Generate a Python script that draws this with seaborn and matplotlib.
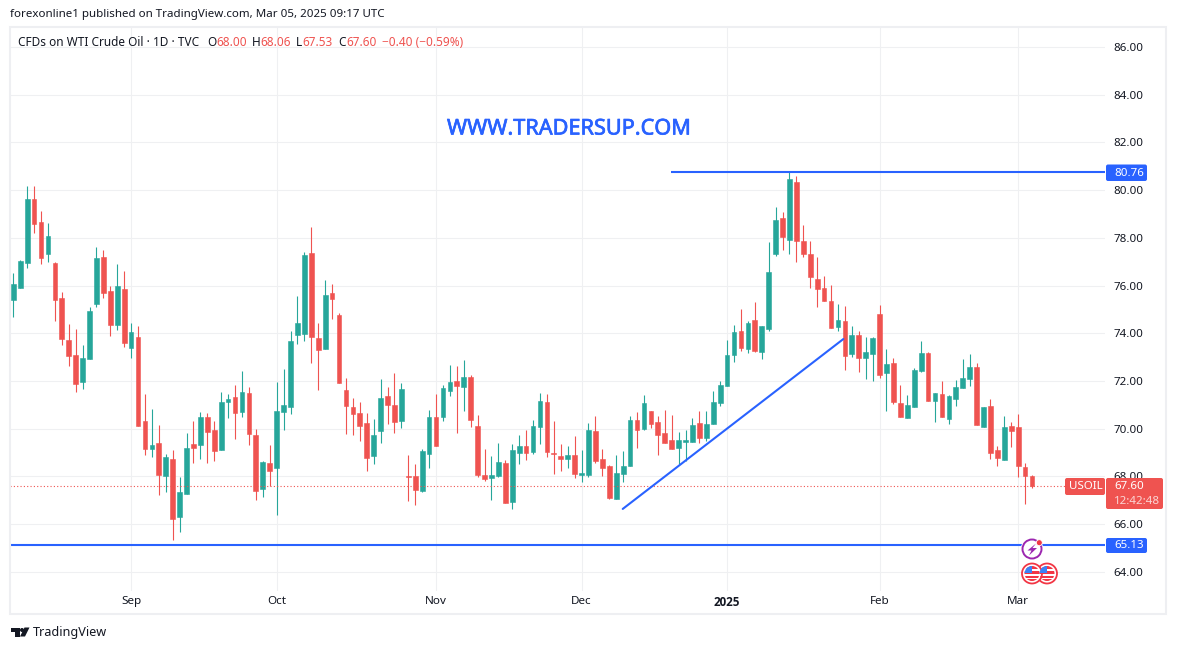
import numpy as np
import pandas as pd
import matplotlib
matplotlib.use('Agg')
import matplotlib.pyplot as plt
import matplotlib.patheffects as pe
from matplotlib.patches import Circle, Polygon, Rectangle, FancyBboxPatch
import seaborn as sns

open_prices = [75.40,75.91,76.95,79.62,78.66,77.33,76.94,75.47,73.71,73.08,
               71.97,72.93,75.24,77.19,75.77,74.36,75.85,73.39,73.84,70.32,
               69.16,69.40,68.03,68.73,66.31,67.27,69.36,69.33,70.49,69.94,
               69.12,71.13,71.32,70.71,71.49,69.73,67.48,68.56,68.36,70.71,
               70.92,73.94,73.98,77.36,73.80,73.35,75.68,74.76,71.62,70.91,
               70.65,70.24,68.87,69.91,71.37,70.99,70.33,68.01,68.01,67.40,
               68.95,70.49,70.50,71.59,72.00,71.76,72.16,70.11,68.06,67.94,
               68.03,68.56,66.94,68.99,69.27,69.03,70.08,71.12,68.98,68.85,
               68.73,68.89,68.07,68.07,69.90,68.73,68.43,67.06,68.11,68.45,
               70.36,70.00,70.74,70.28,69.82,69.52,69.20,69.45,69.45,70.24,
               69.62,70.21,71.09,71.80,73.10,74.09,73.35,74.55,73.22,74.19,
               77.33,78.83,77.92,80.34,77.86,77.32,76.27,75.89,75.35,74.26,
               74.51,73.14,73.92,72.97,73.14,74.80,72.34,72.75,71.07,70.46,
               70.92,72.41,73.17,71.17,71.45,70.42,71.26,71.72,72.09,72.58,
               70.08,70.95,69.10,68.70,70.11,70.07,68.39,68.00]
close_prices = [76.06,77.02,79.62,78.59,77.16,78.07,75.40,73.77,73.06,71.88,
                72.96,74.93,77.15,75.70,74.36,75.98,73.60,74.05,70.12,69.16,
                69.31,68.07,68.81,66.23,67.34,69.19,69.20,70.49,69.87,69.08,
                71.12,71.24,70.67,71.53,69.79,67.40,68.60,68.24,70.74,70.99,
                73.67,74.43,77.28,73.85,73.31,75.60,75.45,71.93,70.96,70.63,
                70.12,68.78,69.73,71.28,71.00,70.29,71.66,67.99,67.44,69.06,
                70.49,69.29,71.70,71.95,71.80,72.16,70.37,68.07,67.90,68.06,
                68.60,66.90,69.10,69.27,68.99,70.11,71.16,69.03,68.94,68.73,
                68.89,68.11,68.14,69.94,68.66,68.36,67.11,68.14,68.43,70.36,
                69.96,71.07,70.21,69.75,69.41,69.16,69.52,69.52,70.15,69.62,
                70.19,71.12,71.83,73.08,74.05,73.39,74.43,73.27,74.30,76.56,
                78.74,78.04,80.46,77.88,77.33,76.37,75.87,75.36,74.23,74.55,
                73.06,73.92,72.97,73.21,73.80,72.26,72.71,71.13,70.50,70.99,
                72.46,73.17,71.17,71.49,70.50,71.37,71.74,72.12,72.58,70.17,
                70.91,68.99,68.78,70.07,69.91,68.45,68.03,67.60]
high_prices = [76.52,77.07,80.17,80.17,79.12,78.62,76.98,75.73,74.38,74.17,
               73.50,75.10,77.61,77.49,75.98,76.90,76.61,74.43,74.30,71.45,
               70.82,70.15,68.94,69.10,67.99,69.82,70.32,70.70,70.65,70.32,
               71.53,71.45,71.83,72.41,71.74,69.98,68.64,69.31,71.95,72.50,
               74.09,75.56,77.40,78.45,74.43,76.23,76.06,74.85,72.12,71.28,
               71.12,70.65,70.40,72.08,71.74,72.33,71.91,68.89,68.52,69.15,
               70.78,71.45,71.83,72.67,72.62,72.88,72.25,70.57,69.15,68.85,
               69.40,68.68,69.36,69.73,69.94,70.36,71.49,71.45,70.32,69.36,
               69.27,69.69,69.10,70.24,70.53,69.15,68.47,68.89,69.06,70.53,
               70.70,71.41,70.74,70.53,70.78,70.57,69.86,69.94,70.44,70.74,
               70.74,71.58,72.00,73.71,74.34,75.01,74.51,75.31,74.30,77.82,
               79.29,79.08,80.77,80.59,78.53,77.86,77.19,76.41,76.02,75.22,
               75.14,74.30,74.09,73.84,73.84,75.18,73.34,72.96,71.83,71.41,
               72.54,73.67,73.21,71.49,72.00,71.41,72.04,72.92,73.13,72.75,
               70.91,71.24,69.27,70.53,70.28,70.61,68.56,68.06]
low_prices = [74.69,75.91,76.75,78.21,76.91,77.00,74.52,73.52,72.64,71.55,
              71.67,72.93,75.11,75.49,73.90,74.15,73.43,72.97,70.12,68.91,
              68.82,67.23,67.36,65.35,65.68,67.27,68.57,68.74,68.57,68.66,
              69.12,70.46,69.58,70.50,69.33,67.02,67.15,67.61,66.39,69.96,
              70.63,73.56,73.69,72.76,71.63,73.35,74.61,71.93,69.79,69.75,
              69.49,68.24,68.53,69.41,70.21,69.83,70.04,66.98,66.81,67.36,
              68.36,69.29,70.33,71.38,69.83,70.75,70.08,67.99,67.82,67.02,
              67.99,66.90,66.64,68.53,68.70,68.95,69.37,68.82,68.11,68.24,
              68.36,67.94,67.78,67.99,68.57,68.03,67.06,67.06,67.78,68.45,
              69.20,69.96,70.04,68.91,69.41,69.16,68.53,68.66,69.45,69.41,
              69.49,70.21,70.96,71.80,72.81,73.27,73.18,73.22,72.93,74.10,
              77.25,77.50,77.33,77.00,77.21,75.91,75.11,75.36,74.23,74.09,
              72.47,73.02,72.39,72.09,72.01,72.14,70.75,71.05,70.50,70.46,
              70.92,72.37,71.17,70.29,70.50,70.21,70.96,71.72,71.80,70.17,
              70.08,68.74,68.45,68.70,69.24,67.99,66.85,67.53]

price_ticks = [64, 66, 68, 70, 72, 74, 76, 78, 80, 82, 84, 86]
month_labels = ['Sep', 'Oct', 'Nov', 'Dec', '2025', 'Feb', 'Mar']
month_candles = [17, 38, 61, 82, 103, 125, 145]
resistance = 80.76
support = 65.13
last_price = 67.60
resistance_start = 94.9
trend_x = [87.94, 119.77]
trend_y = [66.64, 73.76]

UP = '#26a69a'
DOWN = '#ef5350'
BLUE = '#2962ff'
INK = '#131722'
GRID = '#eff0f2'
FONT = ['Noto Sans', 'DejaVu Sans']

sns.set_theme(style='white')
plt.rcParams['font.family'] = FONT

df = pd.DataFrame({'candle': np.arange(len(open_prices)), 'open': open_prices, 'high': high_prices,
                   'low': low_prices, 'close': close_prices})
df['rising'] = df['close'] >= df['open']
df['body_low'] = df[['open', 'close']].min(axis=1)
df['body'] = (df['close'] - df['open']).abs()

W, H = 1177, 650
fig = plt.figure(figsize=(W / 100, H / 100), dpi=100, facecolor='white')
ax = fig.add_axes([10 / W, 1 - 591 / H, 1095 / W, 564 / H])

for rising, color in [(True, UP), (False, DOWN)]:
    part = df[df['rising'] == rising]
    ax.vlines(part['candle'], part['low'], part['high'], color=color, lw=0.8, zorder=2)
    sns.barplot(data=part, x='candle', y='body', bottom=part['body_low'].values, native_scale=True,
                color=color, saturation=1, width=0.68, errorbar=None, edgecolor=color, linewidth=0.4,
                zorder=3, ax=ax)

ax.set_xlim(-0.476, 157.53)
ax.set_ylim(63.20, 86.84)
ax.set_xticks(month_candles)
ax.set_xticklabels(month_labels, fontsize=8.4, color=INK)
ax.get_xticklabels()[4].set_fontfamily('Open Sans')
ax.get_xticklabels()[4].set_fontweight('bold')
ax.set_yticks(price_ticks)
ax.set_yticklabels([f'{p:.2f}' for p in price_ticks], fontsize=8.3, color=INK)
ax.yaxis.tick_right()
ax.tick_params(axis='both', length=0)
ax.tick_params(axis='y', pad=6.2)
ax.tick_params(axis='x', pad=3.5)
ax.set_xlabel('')
ax.set_ylabel('')
ax.grid(True, color=GRID, lw=0.8, zorder=0)
ax.set_axisbelow(True)
for s in ax.spines.values():
    s.set_visible(False)

# drawings on the chart
ax.hlines(last_price, -0.476, 157.53, color=DOWN, lw=0.8, linestyles=(0, (1, 2)), zorder=4)
ax.hlines(resistance, resistance_start, 157.53, color=BLUE, lw=1.5, zorder=5)
ax.hlines(support, -0.476, 157.53, color=BLUE, lw=1.5, zorder=5)
sns.lineplot(x=trend_x, y=trend_y, color=BLUE, lw=1.5, ax=ax, zorder=5)
ax.set_xlim(-0.476, 157.53)
ax.set_ylim(63.20, 86.84)

# overlay in pixels for the labels and frame
ov = fig.add_axes([0, 0, 1, 1], facecolor='none')
ov.set_xlim(0, W)
ov.set_ylim(H, 0)
ov.axis('off')
ov.add_patch(Rectangle((10, 27), 1156, 587, fill=False, ec='#eeeff2', lw=1.5))


def txt(x, y, s, color=INK, size=8.3, **kw):
    kw.setdefault('va', 'center')
    return ov.text(x, y, s, color=color, fontsize=size, **kw)


txt(10, 15, 'forexonline1 published on TradingView.com, Mar 05, 2025 09:17 UTC')
txt(18, 42, 'CFDs on WTI Crude Oil · 1D · TVC', size=8.5)
for x, s, color in [(207, 'O', INK), (216, '68.00', DOWN), (252, 'H', INK), (260, '68.06', DOWN),
                    (296, 'L', INK), (302, '67.53', DOWN), (338, 'C', INK), (346, '67.60', DOWN),
                    (382, '−0.40 (−0.59%)', DOWN)]:
    txt(x, 42, s, color=color, size=8.5)
mark = txt(569, 129, 'WWW.TRADERSUP.COM', color=BLUE, size=15.6, ha='center')
mark.set_path_effects([pe.withStroke(linewidth=0.5, foreground=BLUE)])


def tag(x0, y0, x1, y1, color):
    ov.add_patch(FancyBboxPatch((x0 + 2, y0 + 2), x1 - x0 - 4, y1 - y0 - 4, boxstyle='round,pad=2',
                                fc=color, ec='none', zorder=6))


tag(1106, 164.5, 1147, 181, BLUE)
txt(1114, 173, '80.76', color='white', zorder=7)
tag(1106, 538, 1147, 553, BLUE)
txt(1114, 545.5, '65.13', color='white', zorder=7)
tag(1065, 478, 1105, 495, DOWN)
txt(1069, 486.5, 'USOIL', color='white', zorder=7)
tag(1106, 478, 1163, 509, DOWN)
txt(1114, 486.5, '67.60', color='white', zorder=7)
txt(1114, 501, '12:42:48', color='#fbd5d4', zorder=7)

# event markers
for cx in [1047, 1032]:
    ring = Circle((cx, 573.5), 10, fc='white', ec='#f23645', lw=1.3, zorder=8)
    ov.add_patch(ring)
    inner = Circle((cx, 573.5), 7.5, transform=ov.transData)
    for y0, h in [(566, 2.5), (571, 2.5), (575.5, 2.5), (579, 3)]:
        stripe = Rectangle((cx - 8, y0), 16, h, fc='#f23645', ec='none', zorder=9)
        ov.add_patch(stripe)
        stripe.set_clip_path(inner)
    canton = Rectangle((cx - 8, 565), 8, 8, fc='#3b82f6', ec='none', zorder=10)
    ov.add_patch(canton)
    canton.set_clip_path(inner)
ov.add_patch(Circle((1032, 549), 11.2, fc='white', ec='none', zorder=7))
ov.add_patch(Circle((1032, 549), 9.5, fc='white', ec='#9c27b0', lw=1.4, zorder=8))
ov.add_patch(Polygon([(1036, 543.5), (1027.5, 550.5), (1031.5, 550.5), (1029, 555.5), (1037, 548), (1032.5, 548)],
                     fc='#9c27b0', ec='none', zorder=9))
ov.add_patch(Circle((1039.3, 542.7), 3, fc='#f23645', ec='white', lw=0.6, zorder=10))

# TradingView logo
ov.add_patch(Polygon([(10.5, 627.5), (19.5, 627.5), (19.5, 636.5), (15, 636.5), (15, 632), (10.5, 632)], fc=INK, ec='none'))
ov.add_patch(Circle((22, 630), 2, fc=INK, ec='none'))
ov.add_patch(Polygon([(24.5, 627.5), (29.5, 627.5), (25, 636.5), (20, 636.5)], fc=INK, ec='none'))
txt(33, 632.5, 'TradingView', size=9.1)

fig.savefig('out.png', dpi=100)
